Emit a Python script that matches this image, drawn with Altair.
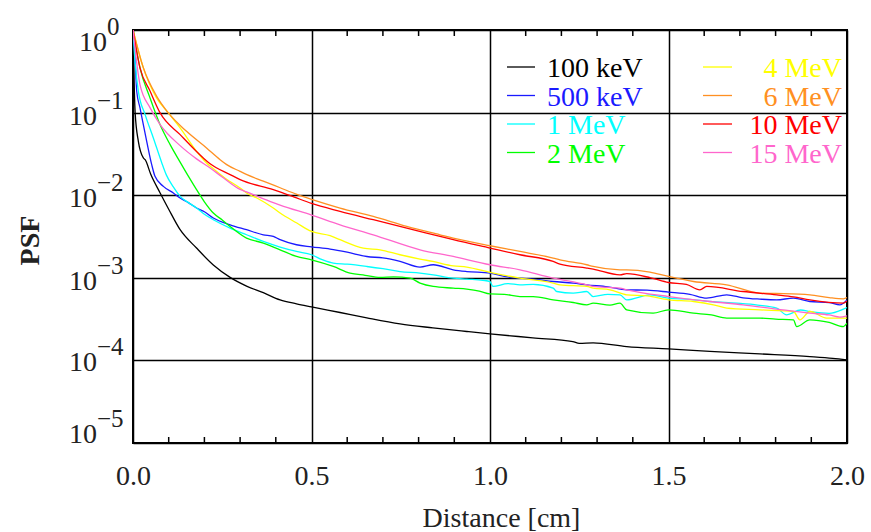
import altair as alt
import pandas as pd

FONT = "Liberation Serif"

# ---- series (distance in cm, log10 of PSF) ----
energies = ["100 keV", "500 keV", "1 MeV", "2 MeV", "4 MeV", "6 MeV", "10 MeV", "15 MeV"]
colors = ["#000000", "#1a1aff", "#00ffff", "#00ff00", "#ffff00", "#ff9022", "#ff0000", "#ff66cc"]

dist_100keV = [0, 0.003, 0.006, 0.015, 0.029, 0.034, 0.05, 0.076, 0.1, 0.132, 0.178, 0.225, 0.272, 0.318,
               0.365, 0.412, 0.458, 0.5, 0.58, 0.655, 0.748, 0.84, 0.935, 1.0, 1.12, 1.232, 1.25, 1.289,
               1.383, 1.5, 1.616, 1.756, 1.896, 1.96, 2.0]
logpsf_100keV = [0, -0.6, -1.0, -1.348, -1.549, -1.57, -1.75, -1.973, -2.17, -2.418, -2.64, -2.845, -2.995, -3.1,
                 -3.18, -3.267, -3.315, -3.352, -3.42, -3.485, -3.558, -3.606, -3.65, -3.679, -3.727, -3.772, -3.795, -3.788,
                 -3.833, -3.86, -3.89, -3.921, -3.954, -3.975, -3.994]

dist_500keV = [0, 0.0056, 0.0104, 0.0196, 0.0384, 0.0524, 0.0616, 0.085, 0.113, 0.132, 0.155, 0.178, 0.2, 0.225,
               0.272, 0.318, 0.365, 0.393, 0.412, 0.458, 0.5, 0.552, 0.6, 0.655, 0.7, 0.748, 0.804, 0.841, 0.897,
               0.935, 1.0, 1.05, 1.084, 1.121, 1.177, 1.233, 1.271, 1.33, 1.383, 1.44, 1.5, 1.56, 1.607, 1.663,
               1.709, 1.756, 1.803, 1.85, 1.896, 1.95, 1.98, 2.0]
logpsf_500keV = [0, -0.337, -0.742, -0.943, -1.348, -1.63, -1.772, -1.893, -1.973, -2.034, -2.09, -2.155, -2.2, -2.276,
                 -2.358, -2.418, -2.479, -2.499, -2.539, -2.6, -2.625, -2.652, -2.69, -2.742, -2.76, -2.802, -2.87, -2.842,
                 -2.903, -2.924, -2.943, -2.99, -3.004, -3.016, -3.045, -3.064, -3.085, -3.11, -3.145, -3.15, -3.173,
                 -3.2, -3.246, -3.206, -3.242, -3.258, -3.267, -3.246, -3.287, -3.3, -3.327, -3.267]

dist_1MeV = [0, 0.006, 0.015, 0.034, 0.057, 0.08, 0.094, 0.113, 0.132, 0.155, 0.178, 0.2, 0.225, 0.272, 0.318,
             0.365, 0.412, 0.458, 0.5, 0.53, 0.561, 0.6, 0.655, 0.7, 0.748, 0.804, 0.841, 0.897, 0.935, 0.98, 1.0,
             1.008, 1.05, 1.084, 1.121, 1.177, 1.187, 1.233, 1.271, 1.289, 1.33, 1.364, 1.383, 1.448, 1.5, 1.56,
             1.616, 1.691, 1.75, 1.803, 1.831, 1.87, 1.896, 1.95, 1.99, 2.0]
logpsf_1MeV = [0, -0.4, -0.742, -1.024, -1.307, -1.6, -1.76, -1.9, -2.015, -2.09, -2.155, -2.23, -2.297, -2.398, -2.479,
               -2.56, -2.628, -2.681, -2.721, -2.78, -2.822, -2.835, -2.863, -2.89, -2.924, -2.943, -2.964, -3.004, -3.016,
               -3.03, -3.045, -3.105, -3.07, -3.085, -3.08, -3.125, -3.166, -3.185, -3.166, -3.227, -3.2, -3.206, -3.267,
               -3.206, -3.246, -3.26, -3.287, -3.307, -3.33, -3.367, -3.448, -3.39, -3.408, -3.43, -3.379, -3.36]

dist_2MeV = [0, 0.0196, 0.0476, 0.0756, 0.104, 0.132, 0.155, 0.178, 0.2, 0.225, 0.25, 0.272, 0.318, 0.365, 0.412,
             0.458, 0.5, 0.561, 0.608, 0.65, 0.692, 0.73, 0.776, 0.804, 0.841, 0.897, 0.935, 0.97, 1.0, 1.04, 1.084,
             1.121, 1.177, 1.233, 1.271, 1.289, 1.336, 1.364, 1.383, 1.457, 1.5, 1.57, 1.62, 1.663, 1.756, 1.8, 1.85,
             1.859, 1.896, 1.95, 1.99, 2.0]
logpsf_2MeV = [0, -0.458, -0.822, -1.145, -1.388, -1.6, -1.77, -1.933, -2.08, -2.216, -2.3, -2.378, -2.519, -2.579, -2.661,
               -2.742, -2.782, -2.863, -2.943, -2.97, -2.996, -2.99, -3.004, -3.064, -3.105, -3.125, -3.137, -3.16, -3.195,
               -3.2, -3.227, -3.227, -3.267, -3.299, -3.327, -3.307, -3.33, -3.307, -3.388, -3.428, -3.388, -3.428, -3.45,
               -3.488, -3.488, -3.5, -3.509, -3.59, -3.509, -3.54, -3.59, -3.55]

dist_4MeV = [0, 0.029, 0.066, 0.099, 0.132, 0.178, 0.206, 0.225, 0.26, 0.3, 0.318, 0.347, 0.393, 0.412, 0.459, 0.5,
             0.552, 0.58, 0.645, 0.692, 0.748, 0.804, 0.84, 0.897, 0.935, 1.0, 1.084, 1.177, 1.196, 1.271, 1.289,
             1.336, 1.383, 1.44, 1.5, 1.57, 1.626, 1.663, 1.756, 1.85, 1.868, 1.896, 1.943, 2.0]
logpsf_4MeV = [0, -0.458, -0.822, -1.004, -1.185, -1.469, -1.61, -1.68, -1.8, -1.913, -1.973, -2.034, -2.155, -2.216,
               -2.337, -2.439, -2.49, -2.539, -2.64, -2.661, -2.721, -2.773, -2.802, -2.855, -2.87, -2.935, -3.004, -3.064,
               -3.085, -3.105, -3.125, -3.145, -3.206, -3.22, -3.267, -3.287, -3.327, -3.367, -3.388, -3.408, -3.509,
               -3.408, -3.488, -3.488]

dist_6MeV = [0, 0.029, 0.066, 0.099, 0.15, 0.206, 0.244, 0.2625, 0.3, 0.319, 0.365, 0.412, 0.459, 0.5, 0.58, 0.673,
             0.767, 0.86, 0.897, 1.0, 1.084, 1.177, 1.196, 1.271, 1.289, 1.364, 1.383, 1.448, 1.5, 1.57, 1.663,
             1.756, 1.8, 1.896, 1.95, 1.99, 2.0]
logpsf_6MeV = [0, -0.458, -0.8, -1.004, -1.227, -1.428, -1.57, -1.63, -1.712, -1.752, -1.83, -1.91, -1.99, -2.05, -2.155,
               -2.257, -2.378, -2.479, -2.519, -2.612, -2.681, -2.761, -2.782, -2.842, -2.863, -2.903, -2.903, -2.93,
               -2.984, -3.045, -3.085, -3.185, -3.19, -3.206, -3.24, -3.255, -3.24]

dist_10MeV = [0, 0.0196, 0.048, 0.076, 0.132, 0.197, 0.216, 0.272, 0.3, 0.393, 0.45, 0.5, 0.58, 0.673, 0.767, 0.86,
              0.897, 1.0, 1.084, 1.177, 1.196, 1.271, 1.289, 1.364, 1.383, 1.45, 1.5, 1.55, 1.588, 1.607, 1.709,
              1.803, 1.85, 1.896, 1.99, 2.0]
logpsf_10MeV = [0, -0.458, -0.742, -1.004, -1.267, -1.55, -1.62, -1.75, -1.812, -1.933, -2.02, -2.1, -2.196, -2.297,
                -2.398, -2.499, -2.539, -2.64, -2.721, -2.802, -2.834, -2.882, -2.895, -2.964, -2.95, -3.0, -3.057, -3.08,
                -3.145, -3.105, -3.166, -3.206, -3.23, -3.267, -3.307, -3.28]

dist_15MeV = [0, 0.0196, 0.048, 0.076, 0.132, 0.178, 0.216, 0.25, 0.3, 0.318, 0.393, 0.412, 0.5, 0.58, 0.673, 0.804,
              0.897, 1.0, 1.084, 1.177, 1.196, 1.271, 1.289, 1.364, 1.383, 1.5, 1.616, 1.709, 1.803, 1.896, 1.95,
              1.98, 2.0]
logpsf_15MeV = [0, -0.661, -0.943, -1.145, -1.4, -1.56, -1.67, -1.78, -1.93, -1.96, -2.09, -2.12, -2.24, -2.358, -2.479,
                -2.661, -2.742, -2.842, -2.903, -3.004, -3.02, -3.085, -3.105, -3.125, -3.145, -3.227, -3.287, -3.327,
                -3.379, -3.428, -3.45, -3.476, -3.461]

series_dist = [dist_100keV, dist_500keV, dist_1MeV, dist_2MeV, dist_4MeV, dist_6MeV, dist_10MeV, dist_15MeV]
series_log = [logpsf_100keV, logpsf_500keV, logpsf_1MeV, logpsf_2MeV, logpsf_4MeV, logpsf_6MeV, logpsf_10MeV, logpsf_15MeV]

# axis ticks
x_ticks = [0.0, 0.5, 1.0, 1.5, 2.0]
x_minor_ticks = [0.1, 0.2, 0.3, 0.4, 0.6, 0.7, 0.8, 0.9, 1.1, 1.2, 1.3, 1.4, 1.6, 1.7, 1.8, 1.9]
y_ticks = [1, 1e-1, 1e-2, 1e-3, 1e-4, 1e-5]
y_exponents = ["0", "\u22121", "\u22122", "\u22123", "\u22124", "\u22125"]

rows = []
for name, ds, ls in zip(energies, series_dist, series_log):
    for d, l in zip(ds, ls):
        rows.append({"energy": name, "d": d, "psf": 10 ** l})
df = pd.DataFrame(rows)

W, H = 714, 413
xscale = alt.Scale(domain=[0, 2], nice=False, zero=False)
yscale = alt.Scale(type="log", domain=[1e-5, 1], nice=False)

xaxis = alt.Axis(
    values=x_ticks, format=".1f", grid=True, gridColor="#000", gridWidth=1.5, gridOpacity=1,
    ticks=False, domain=False, labelFont=FONT, labelFontSize=28, labelColor="#222",
    labelPadding=19, labelFlush=False,
    title="Distance [cm]", titleFont=FONT, titleFontSize=28, titleFontWeight="normal",
    titleColor="#222", titleX=368, titleY=83, titleBaseline="alphabetic", titleAlign="center")
yaxis = alt.Axis(
    values=y_ticks, grid=True, gridColor="#000", gridWidth=1.5, gridOpacity=1, ticks=False, domain=False,
    labels=False, title="PSF", titleFont=FONT, titleFontSize=28, titleFontWeight="bold",
    titleColor="#222", titleAngle=-90, titleX=-95, titleY=210, titleBaseline="alphabetic",
    titleAlign="center")

lines = alt.Chart(df).mark_line(strokeWidth=1.3, clip=True, interpolate="monotone").encode(
    x=alt.X("d:Q", scale=xscale, axis=xaxis),
    y=alt.Y("psf:Q", scale=yscale, axis=yaxis),
    color=alt.Color("energy:N", scale=alt.Scale(domain=energies, range=colors), legend=None),
    order=alt.Order("d:Q"),
)

layers = [lines]

# minor ticks on bottom and top, pointing inward
mt = pd.DataFrame({"t": x_minor_ticks})
for y0, y1 in [(H, H - 6), (0, 6)]:
    layers.append(alt.Chart(mt).mark_rule(color="#000", strokeWidth=1.5).encode(
        x=alt.X("t:Q", scale=xscale, axis=xaxis), y=alt.value(y0), y2=alt.value(y1)))

# y tick labels as 10 with superscript exponent
base_dy = [13, 4, 4, 4, 3, -8]
for i, (v, e) in enumerate(zip(y_ticks, y_exponents)):
    tdf = pd.DataFrame({"v": [v], "base": ["10"], "exp": [e]})
    right = -26 if e == "0" else -36
    layers.append(alt.Chart(tdf).mark_text(font=FONT, fontSize=28, align="right", baseline="middle",
                                           color="#222", dy=base_dy[i]).encode(
        x=alt.value(right), y=alt.Y("v:Q", scale=yscale, axis=yaxis), text="base:N"))
    layers.append(alt.Chart(tdf).mark_text(font=FONT, fontSize=25, align="left", baseline="middle",
                                           color="#222", dy=base_dy[i] - 16).encode(
        x=alt.value(right), y=alt.Y("v:Q", scale=yscale, axis=yaxis), text="exp:N"))

# legend inside the plot (two columns)
row_y = [37, 65.5, 94, 122.5]
for i, (name, col) in enumerate(zip(energies, colors)):
    c, r = divmod(i, 4)
    ldf = pd.DataFrame({"label": [name]})
    if c == 0:
        lx0, lx1, tx, al = 374, 402, 414, "left"
    else:
        lx0, lx1, tx, al = 570, 599, 709, "right"
    layers.append(alt.Chart(ldf).mark_rule(color=col, strokeWidth=1.3).encode(
        x=alt.value(lx0), x2=alt.value(lx1), y=alt.value(row_y[r])))
    layers.append(alt.Chart(ldf).mark_text(font=FONT, fontSize=28, align=al, baseline="middle",
                                           color=col, dy=2).encode(
        x=alt.value(tx), y=alt.value(row_y[r]), text="label:N"))

chart = alt.layer(*layers).properties(
    width=W, height=H,
    autosize=alt.AutoSizeParams(type="none"),
    padding={"left": 133, "top": 30, "right": 24, "bottom": 89},
    background="white",
).configure_view(stroke="#000", strokeWidth=2)

chart.save("out.html", embed_options={"renderer": "svg", "actions": False})
